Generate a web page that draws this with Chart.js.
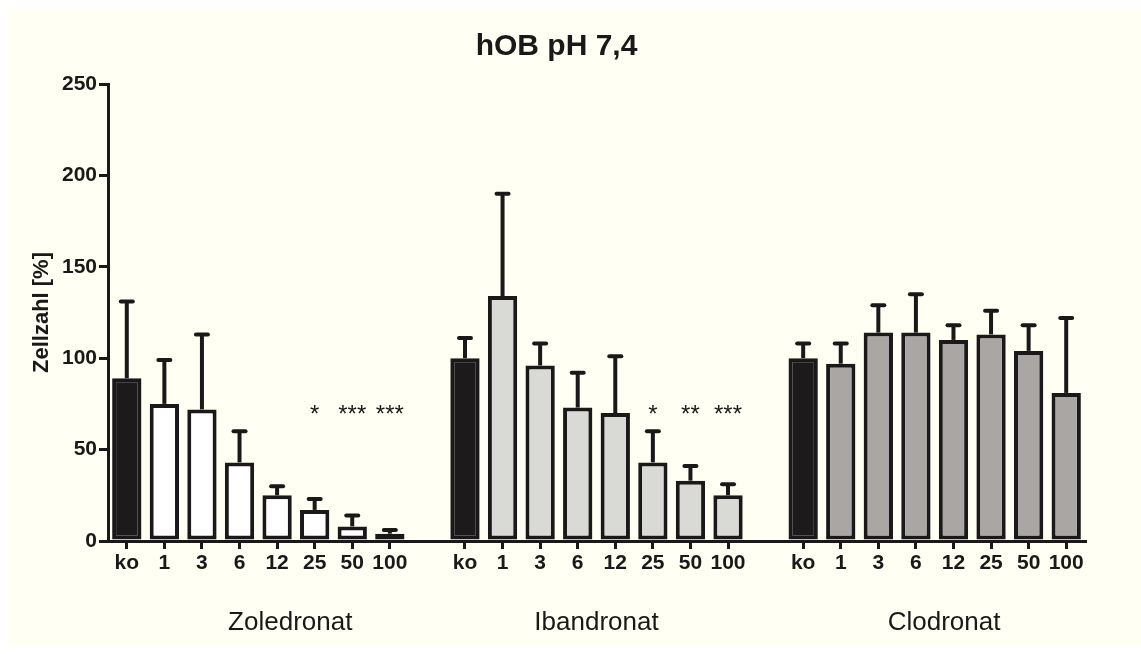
<!DOCTYPE html>
<html>
<head>
<meta charset="utf-8">
<title>hOB pH 7,4</title>
<script src="https://cdn.jsdelivr.net/npm/chart.js@4/dist/chart.umd.min.js"></script>
<style>
    body{
        margin: 0;
        background: #ffffff;
    }
    #wrap{
        position: absolute;
        left: 8px;
        top: 8px;
        width: 1133px;
        height: 638px;
        background: #fffff3;
    }
</style>
</head>
<body>
<div id="wrap"><canvas id="chart"></canvas></div>
<script>
"use strict";

//Koncentrationer (x-axel)
const concentrations = ["ko", "1", "3", "6", "12", "25", "50", "100"];
const groups = ["Zoledronat", "Ibandronat", "Clodronat"];

//Medelvärden och fel (uppåt) per grupp
const zolMean = [89, 75, 72, 43, 25, 17, 8, 4];
const zolErr = [42, 24, 41, 17, 5, 6, 6, 2];
const ibaMean = [100, 134, 96, 73, 70, 43, 33, 25];
const ibaErr = [11, 56, 12, 19, 31, 17, 8, 6];
const cloMean = [100, 97, 114, 114, 110, 113, 104, 81];
const cloErr = [8, 11, 15, 21, 8, 13, 14, 41];

//Signifikans
const zolStars = ["", "", "", "", "", "*", "***", "***"];
const ibaStars = ["", "", "", "", "", "*", "**", "***"];
const cloStars = ["", "", "", "", "", "", "", ""];
const starLevel = 73;

//Y-axel
const yTicks = [0, 50, 100, 150, 200, 250];

const controlColor = "#1c1a1a";
const groupColors = ["#ffffff", "#d9dad5", "#a9a6a3"];

//Bygg en lång kategoriaxel med tomma platser mellan grupperna
let labels = [];
let means = [];
let errors = [];
let stars = [];
let fills = [];
const allMeans = [zolMean, ibaMean, cloMean];
const allErrors = [zolErr, ibaErr, cloErr];
const allStars = [zolStars, ibaStars, cloStars];
const groupStart = [];

for (let g = 0; g < groups.length; g++) {
    if (g > 0) {
        labels.push("");
        means.push(null);
        errors.push(null);
        stars.push("");
        fills.push("rgba(0,0,0,0)");
    }
    groupStart.push(labels.length);
    for (let i = 0; i < concentrations.length; i++) {
        labels.push(concentrations[i]);
        means.push(allMeans[g][i]);
        errors.push(allErrors[g][i]);
        stars.push(allStars[g][i]);
        fills.push(i === 0 ? controlColor : groupColors[g]);
    }
}

/**
 * Ritar felstaplar (bara uppåt) och stjärnor
 */
const errorBars = {
    id: "errorBars",
    afterDatasetsDraw(chart) {
        const ctx = chart.ctx;
        const meta = chart.getDatasetMeta(0);
        const yScale = chart.scales.y;
        ctx.save();
        ctx.strokeStyle = "#1a1818";
        ctx.lineWidth = 4;
        for (let i = 0; i < means.length; i++) {
            if (means[i] === null) continue;
            const x = meta.data[i].x;
            const yBase = yScale.getPixelForValue(means[i]);
            const yTop = yScale.getPixelForValue(means[i] + errors[i]);
            ctx.lineCap = "butt";
            ctx.beginPath();
            ctx.moveTo(x, yBase);
            ctx.lineTo(x, yTop);
            ctx.stroke();
            ctx.lineCap = "round";
            ctx.beginPath();
            ctx.moveTo(x - 6, yTop);
            ctx.lineTo(x + 6, yTop);
            ctx.stroke();
        }
        ctx.fillStyle = "#1a1818";
        ctx.font = "24px 'Liberation Sans', Arial, sans-serif";
        ctx.textAlign = "center";
        ctx.textBaseline = "alphabetic";
        for (let i = 0; i < stars.length; i++) {
            if (!stars[i]) continue;
            ctx.fillText(stars[i], meta.data[i].x, yScale.getPixelForValue(starLevel) + 14);
        }
        ctx.restore();
    }
};

/**
 * Skriver ut gruppnamn under x-axeln
 */
const groupLabels = {
    id: "groupLabels",
    afterDraw(chart) {
        const ctx = chart.ctx;
        const xScale = chart.scales.x;
        const shift = [0.85, 0, 0.25];
        ctx.save();
        ctx.fillStyle = "#1a1818";
        ctx.font = "26px 'Liberation Sans', Arial, sans-serif";
        ctx.textAlign = "center";
        ctx.textBaseline = "middle";
        for (let g = 0; g < groups.length; g++) {
            const x = xScale.getPixelForValue(groupStart[g] + 3.5 + shift[g]);
            ctx.fillText(groups[g], x, chart.chartArea.bottom + 82);
        }
        ctx.restore();
    }
};

const chartEl = document.getElementById("chart");
new Chart(chartEl, {
    type: "bar",
    data: {
        labels: labels,
        datasets: [{
            label: "Zellzahl",
            data: means,
            backgroundColor: fills,
            borderColor: "#1a1818",
            borderWidth: 4,
            borderSkipped: false,
            barPercentage: 0.78,
            categoryPercentage: 1.0
        }]
    },
    options: {
        responsive: true,
        maintainAspectRatio: false,
        animation: false,
        layout: {
            padding: { left: 20, right: 56, top: 0, bottom: 0 }
        },
        plugins: {
            legend: { display: false },
            tooltip: { enabled: false },
            title: {
                display: true,
                text: "hOB pH 7,4",
                color: "#1a1818",
                font: { family: "'Liberation Sans', Arial, sans-serif", size: 30, weight: "bold" },
                padding: { top: 21, bottom: 19 }
            }
        },
        scales: {
            x: {
                offset: true,
                afterFit: (scale) => { scale.height = 105; },
                grid: {
                    offset: false,
                    drawOnChartArea: false,
                    tickLength: 8,
                    lineWidth: 3,
                    color: (c) => (labels[c.index] === "" ? "rgba(0,0,0,0)" : "#1a1818")
                },
                border: { display: true, width: 3, color: "#1a1818" },
                ticks: {
                    autoSkip: false,
                    maxRotation: 0,
                    padding: 2,
                    color: "#1a1818",
                    font: { family: "'Liberation Sans', Arial, sans-serif", size: 21, weight: "bold" }
                }
            },
            y: {
                min: 0,
                max: 250,
                afterFit: (scale) => { scale.width = 80; },
                afterBuildTicks: (scale) => { scale.ticks = yTicks.map(v => ({ value: v })); },
                grid: {
                    drawOnChartArea: false,
                    tickLength: 9,
                    lineWidth: 3,
                    color: "#1a1818"
                },
                border: { display: true, width: 3, color: "#1a1818" },
                ticks: {
                    padding: 2,
                    color: "#1a1818",
                    font: { family: "'Liberation Sans', Arial, sans-serif", size: 21, weight: "bold" }
                },
                title: {
                    display: true,
                    text: "Zellzahl [%]",
                    color: "#1a1818",
                    padding: { top: 1, bottom: 0 },
                    font: { family: "'Liberation Sans', Arial, sans-serif", size: 22, weight: "bold" }
                }
            }
        }
    },
    plugins: [errorBars, groupLabels]
});
</script>
</body>
</html>
